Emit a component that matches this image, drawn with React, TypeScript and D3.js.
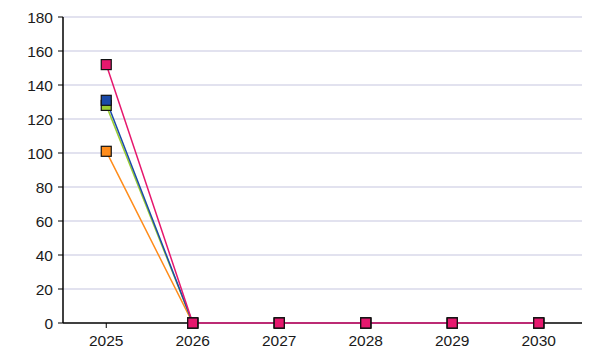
import React from "react";
import * as d3 from "d3";

const years = ["2025", "2026", "2027", "2028", "2029", "2030"];
const orangeSeries = [101, 0, 0, 0, 0, 0];
const greenSeries = [128, 0, 0, 0, 0, 0];
const blueSeries = [131, 0, 0, 0, 0, 0];
const pinkSeries = [152, 0, 0, 0, 0, 0];
const yTicks = [0, 20, 40, 60, 80, 100, 120, 140, 160, 180];

const seriesList = [
  { name: "orange", values: orangeSeries, color: "#ff8c1a" },
  { name: "green", values: greenSeries, color: "#9acd32" },
  { name: "blue", values: blueSeries, color: "#1a4aa8" },
  { name: "pink", values: pinkSeries, color: "#e6186e" },
];

const W = 594;
const H = 352;
const m = { left: 63, right: 12, top: 17, bottom: 29 };

export default function App() {
  const x = d3.scaleBand<string>().domain(years).range([m.left, W - m.right]);
  const y = d3.scaleLinear().domain([0, 180]).range([H - m.bottom, m.top]);
  const cx = (d: string) => (x(d) as number) + x.bandwidth() / 2;
  const line = d3
    .line<number>()
    .x((_, i) => cx(years[i]))
    .y((v) => y(v));
  const font = "'Liberation Sans', Arial, sans-serif";
  return (
    <svg
      width={W}
      height={H}
      style={{ position: "absolute", left: 0, top: 0, background: "#fff" }}
    >
      {yTicks.map((t) => (
        <g key={t}>
          {t > 0 && (
            <line
              x1={m.left}
              x2={W - m.right}
              y1={y(t)}
              y2={y(t)}
              stroke="#d9d9ea"
              strokeWidth={1.5}
            />
          )}
          <line x1={m.left - 5} x2={m.left} y1={y(t)} y2={y(t)} stroke="#000" />
          <text
            x={m.left - 10}
            y={y(t)}
            dy="0.36em"
            textAnchor="end"
            fontFamily={font}
            fontSize={15.5}
            fill="#1a1a1a"
          >
            {t}
          </text>
        </g>
      ))}
      <line x1={m.left} x2={m.left} y1={m.top} y2={H - m.bottom} stroke="#000" strokeWidth={1.5} />
      <line
        x1={m.left}
        x2={W - m.right}
        y1={H - m.bottom}
        y2={H - m.bottom}
        stroke="#000"
        strokeWidth={1.5}
      />
      {years.map((yr) => (
        <g key={yr}>
          <line
            x1={cx(yr)}
            x2={cx(yr)}
            y1={H - m.bottom}
            y2={H - m.bottom + 5}
            stroke="#000"
          />
          <text
            x={cx(yr)}
            y={H - m.bottom + 23}
            textAnchor="middle"
            fontFamily={font}
            fontSize={15.5}
            fill="#1a1a1a"
          >
            {yr}
          </text>
        </g>
      ))}
      {seriesList.map((s) => (
        <g key={s.name}>
          <path d={line(s.values) || ""} fill="none" stroke={s.color} strokeWidth={1.5} />
        </g>
      ))}
      {seriesList.map((s) => (
        <g key={s.name + "-pts"}>
          {s.values.map((v, i) => (
            <rect
              key={i}
              x={cx(years[i]) - 5}
              y={y(v) - 5}
              width={10}
              height={10}
              fill={s.color}
              stroke="#111"
              strokeWidth={1.2}
            />
          ))}
        </g>
      ))}
    </svg>
  );
}
